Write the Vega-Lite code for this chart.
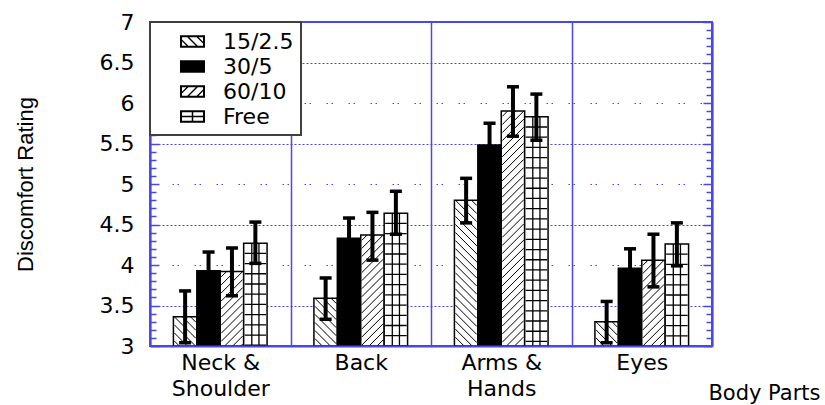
{
  "$schema": "https://vega.github.io/schema/vega-lite/v6.json",
  "autosize": "none",
  "width": 562,
  "height": 324,
  "padding": {"left": 150, "top": 22, "right": 113, "bottom": 59},
  "background": "white",
  "data": {"values": [
    {"category": "Neck & Shoulder", "series": "15/2.5", "value": 3.36, "lo": 3.04, "hi": 3.68},
    {"category": "Neck & Shoulder", "series": "30/5", "value": 3.93, "lo": 3.70, "hi": 4.16},
    {"category": "Neck & Shoulder", "series": "60/10", "value": 3.92, "lo": 3.62, "hi": 4.21},
    {"category": "Neck & Shoulder", "series": "Free", "value": 4.27, "lo": 4.02, "hi": 4.53},
    {"category": "Back", "series": "15/2.5", "value": 3.59, "lo": 3.33, "hi": 3.84},
    {"category": "Back", "series": "30/5", "value": 4.33, "lo": 4.08, "hi": 4.58},
    {"category": "Back", "series": "60/10", "value": 4.37, "lo": 4.06, "hi": 4.65},
    {"category": "Back", "series": "Free", "value": 4.64, "lo": 4.38, "hi": 4.91},
    {"category": "Arms & Hands", "series": "15/2.5", "value": 4.80, "lo": 4.52, "hi": 5.07},
    {"category": "Arms & Hands", "series": "30/5", "value": 5.48, "lo": 5.21, "hi": 5.75},
    {"category": "Arms & Hands", "series": "60/10", "value": 5.90, "lo": 5.59, "hi": 6.20},
    {"category": "Arms & Hands", "series": "Free", "value": 5.83, "lo": 5.54, "hi": 6.11},
    {"category": "Eyes", "series": "15/2.5", "value": 3.30, "lo": 3.04, "hi": 3.55},
    {"category": "Eyes", "series": "30/5", "value": 3.96, "lo": 3.72, "hi": 4.20},
    {"category": "Eyes", "series": "60/10", "value": 4.06, "lo": 3.73, "hi": 4.38},
    {"category": "Eyes", "series": "Free", "value": 4.26, "lo": 3.99, "hi": 4.52}
  ]},
  "encoding": {
    "x": {
      "field": "category", "type": "nominal",
      "sort": ["Neck & Shoulder", "Back", "Arms & Hands", "Eyes"],
      "scale": {"paddingInner": 0, "paddingOuter": 0},
      "axis": {
        "title": "Body Parts", "titleFont": "DejaVu Sans", "titleFontSize": 21, "titleFontWeight": "normal", "titleColor": "black",
        "titleX": 670, "titleY": 53, "titleAlign": "right", "titleBaseline": "alphabetic",
        "labelAngle": 0, "labelFont": "DejaVu Sans", "labelFontSize": 22, "labelColor": "black",
        "labelExpr": "datum.label === 'Neck & Shoulder' ? ['Neck &', 'Shoulder'] : datum.label === 'Arms & Hands' ? ['Arms &', 'Hands'] : datum.label",
        "labelBaseline": "top", "labelPadding": 6, "labelLineHeight": 26,
        "ticks": false, "tickBand": "extent",
        "grid": true, "gridColor": "#4848e8", "gridWidth": 1.5, "gridOpacity": 1,
        "domain": true, "domainColor": "#4848e8", "domainWidth": 2, "zindex": 1
      }
    },
    "xOffset": {
      "field": "series", "type": "nominal",
      "sort": ["15/2.5", "30/5", "60/10", "Free"],
      "scale": {"paddingInner": 0, "paddingOuter": 1.27}
    }
  },
  "layer": [
    {
      "mark": {"type": "point", "filled": true, "fill": "black", "size": 625, "strokeWidth": 0, "opacity": 1, "clip": true},
      "encoding": {
        "xOffset": {"datum": "30/5"},
        "y": {"datum": 3, "type": "quantitative", "scale": {"domain": [3, 7], "nice": false, "zero": false}, "axis": null},
        "shape": {
          "field": "series", "type": "nominal",
          "scale": {"domain": ["15/2.5", "30/5", "60/10", "Free"], "range": [
            "M-1,-0.5H1V0.5H-1ZM-0.84,-0.34V0.34H0.84V-0.34ZM-0.42,-0.495L0.42,0.345L0.42,0.495L-0.42,-0.345ZM0.33,-0.495L0.9,0.075L0.9,0.225L0.33,-0.345ZM-0.9,-0.225L-0.33,0.345L-0.33,0.495L-0.9,-0.075Z",
            "M-1,-0.5H1V0.5H-1Z",
            "M-1,-0.5H1V0.5H-1ZM-0.84,-0.34V0.34H0.84V-0.34ZM-0.42,0.345L0.42,-0.495L0.42,-0.345L-0.42,0.495ZM0.33,0.345L0.9,-0.225L0.9,-0.075L0.33,0.495ZM-0.9,0.075L-0.33,-0.495L-0.33,-0.345L-0.9,0.225Z",
            "M-1,-0.5H1V0.5H-1ZM-0.84,-0.34V0.34H0.84V-0.34ZM-0.06,-0.42H0.06V0.42H-0.06ZM-0.9,-0.06H0.9V0.06H-0.9Z"
          ]},
          "legend": {"title": null}
        }
      }
    },
    {
      "mark": {"type": "bar", "stroke": "black", "strokeWidth": 1.5, "opacity": 1},
      "encoding": {
        "y": {
          "field": "value", "type": "quantitative",
          "scale": {"domain": [3, 7], "nice": false, "zero": false},
          "axis": {
            "orient": "left",
            "title": "Discomfort Rating", "titleFont": "Liberation Sans", "titleFontSize": 22, "titleFontWeight": "normal", "titleColor": "black",
            "titleAngle": 270, "titleX": -125, "titleY": 162, "titleAlign": "center", "titleBaseline": "middle",
            "values": [3,3.1,3.2,3.3,3.4,3.5,3.6,3.7,3.8,3.9,4,4.1,4.2,4.3,4.4,4.5,4.6,4.7,4.8,4.9,5,5.1,5.2,5.3,5.4,5.5,5.6,5.7,5.8,5.9,6,6.1,6.2,6.3,6.4,6.5,6.6,6.7,6.8,6.9,7],
            "format": ".1~f",
            "labelExpr": "datum.value * 2 % 1 === 0 ? datum.label : ''",
            "labelOverlap": false, "labelPadding": 25,
            "labelFont": "DejaVu Sans", "labelFontSize": 22, "labelColor": "black",
            "tickColor": "#4848e8", "tickWidth": 1.5,
            "tickSize": {"condition": {"test": "datum.value * 2 % 1 === 0", "value": -9}, "value": -6},
            "grid": true, "gridColor": "#4848e8", "gridWidth": 1.2,
            "gridOpacity": {"condition": {"test": "datum.value * 2 % 1 === 0 && datum.value > 3.05 && datum.value < 6.95", "value": 1}, "value": 0},
            "gridDash": {"condition": {"test": "datum.value % 1 === 0", "value": [1.5, 3.5, 1.5, 15.5]}, "value": [2, 2]},
            "domainColor": "#4848e8", "domainWidth": 2, "zindex": 0
          }
        },
        "y2": {"datum": 3},
        "fill": {"condition": {"test": "datum.series === '30/5'", "value": "black"}, "value": "white"}
      }
    },
    {
      "transform": [{"filter": "datum.series === '15/2.5'"}],
      "mark": {"type": "point", "shape": "M0.5,0L1,0.5M-0.25,0L1,1.25M-1,0L1,2M-1,0.75L1,2.75M-1,1.5L1,3.5M-1,2.25L1,4.25M-1,3L1,5M-1,3.75L1,5.75M-1,4.5L1,6.5M-1,5.25L1,7.25M-1,6L1,8M-1,6.75L1,8.75M-1,7.5L1,9.5M-1,8.25L1,10.25M-1,9L1,11M-1,9.75L1,11.75M-1,10.5L1,12.5M-1,11.25L1,13.25M-1,12L1,14M-1,12.75L1,14.75M-1,13.5L1,15.5", "size": 462.25, "filled": false, "stroke": "black", "strokeWidth": 1, "opacity": 1, "clip": true},
      "encoding": {"y": {"field": "value", "type": "quantitative", "axis": null}}
    },
    {
      "transform": [{"filter": "datum.series === '60/10'"}],
      "mark": {"type": "point", "shape": "M-1,0.5L-0.5,0M-1,1.25L0.25,0M-1,2L1,0M-1,2.75L1,0.75M-1,3.5L1,1.5M-1,4.25L1,2.25M-1,5L1,3M-1,5.75L1,3.75M-1,6.5L1,4.5M-1,7.25L1,5.25M-1,8L1,6M-1,8.75L1,6.75M-1,9.5L1,7.5M-1,10.25L1,8.25M-1,11L1,9M-1,11.75L1,9.75M-1,12.5L1,10.5M-1,13.25L1,11.25M-1,14L1,12M-1,14.75L1,12.75M-1,15.5L1,13.5M-1,16.25L1,14.25M-1,17L1,15M-1,17.75L1,15.75M-1,18.5L1,16.5M-1,19.25L1,17.25M-1,20L1,18M-1,20.75L1,18.75M-1,21.5L1,19.5M-1,22.25L1,20.25M-1,23L1,21M-1,23.75L1,21.75", "size": 462.25, "filled": false, "stroke": "black", "strokeWidth": 1, "opacity": 1, "clip": true},
      "encoding": {"y": {"field": "value", "type": "quantitative", "axis": null}}
    },
    {
      "transform": [{"filter": "datum.series === 'Free'"}],
      "mark": {"type": "point", "shape": "M-0.333,0V22.5M0.333,0V22.5M-1,0.95H1M-1,1.9H1M-1,2.85H1M-1,3.8H1M-1,4.75H1M-1,5.7H1M-1,6.65H1M-1,7.6H1M-1,8.55H1M-1,9.5H1M-1,10.45H1M-1,11.4H1M-1,12.35H1M-1,13.3H1M-1,14.25H1M-1,15.2H1M-1,16.15H1M-1,17.1H1M-1,18.05H1M-1,19H1M-1,19.95H1M-1,20.9H1M-1,21.85H1", "size": 462.25, "filled": false, "stroke": "black", "strokeWidth": 1.3, "opacity": 1, "clip": true},
      "encoding": {"y": {"field": "value", "type": "quantitative", "axis": null}}
    },
    {
      "mark": {"type": "rule", "color": "black", "strokeWidth": 4, "opacity": 1},
      "encoding": {
        "y": {
          "field": "lo", "type": "quantitative",
          "axis": {
            "orient": "right", "title": null,
            "values": [3,3.1,3.2,3.3,3.4,3.5,3.6,3.7,3.8,3.9,4,4.1,4.2,4.3,4.4,4.5,4.6,4.7,4.8,4.9,5,5.1,5.2,5.3,5.4,5.5,5.6,5.7,5.8,5.9,6,6.1,6.2,6.3,6.4,6.5,6.6,6.7,6.8,6.9,7],
            "labels": false, "grid": false,
            "tickColor": "#4848e8", "tickWidth": 1.5,
            "tickSize": {"condition": {"test": "datum.value * 2 % 1 === 0", "value": -9}, "value": -6},
            "domainColor": "#4848e8", "domainWidth": 2
          }
        },
        "y2": {"field": "hi"}
      }
    },
    {
      "mark": {"type": "tick", "color": "black", "thickness": 3.5, "size": 12, "opacity": 1},
      "encoding": {"y": {"field": "hi", "type": "quantitative", "axis": null}}
    },
    {
      "mark": {"type": "tick", "color": "black", "thickness": 3.5, "size": 12, "opacity": 1},
      "encoding": {"y": {"field": "lo", "type": "quantitative", "axis": null}}
    }
  ],
  "resolve": {"axis": {"y": "independent"}},
  "config": {
    "font": "DejaVu Sans",
    "view": {"stroke": "#4848e8", "strokeWidth": 2},
    "legend": {
      "orient": "top-left", "offset": 0, "padding": 7, "symbolOffset": 23, "labelOffset": 18, "rowPadding": 1,
      "symbolSize": 625, "symbolStrokeWidth": 0,
      "labelFont": "DejaVu Sans", "labelFontSize": 22, "labelColor": "black", "labelLimit": 300,
      "strokeColor": "#404040", "strokeWidth": 2, "fillColor": "white", "zindex": 2
    }
  }
}
